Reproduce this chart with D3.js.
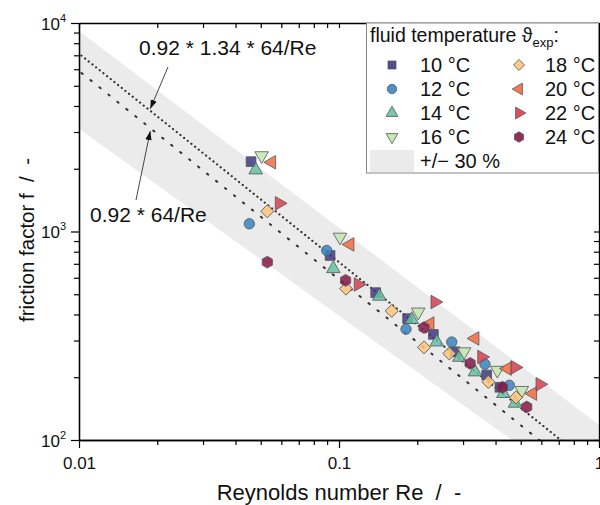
<!DOCTYPE html>
<html>
<head>
<meta charset="utf-8">
<script src="https://cdn.jsdelivr.net/npm/d3@7"></script>
<style>
  html, body { margin: 0; padding: 0; background: #fff; }
  svg { display: block; font-family: "Liberation Sans", Arial, sans-serif; }
</style>
</head>
<body>
<svg id="chart" width="600" height="505"></svg>
<script>
// Friction factor vs. Reynolds number, measured at eight fluid temperatures.
// Each series: [Re, f]
const t10 = [[0.0459, 2163], [0.0924, 767], [0.1384, 509], [0.1836, 382], [0.2307, 321], [0.2793, 265], [0.3698, 205], [0.4159, 179]];
const t12 = [[0.0452, 1089], [0.0897, 811], [0.1810, 340], [0.2714, 295], [0.3642, 231], [0.4519, 183]];
const t14 = [[0.0478, 1972], [0.0951, 663], [0.1429, 489], [0.1904, 378], [0.2377, 295], [0.2903, 249], [0.3334, 212], [0.4286, 167], [0.4753, 150]];
const t16 = [[0.0504, 2311], [0.1009, 940], [0.2017, 411], [0.3027, 265], [0.4064, 216], [0.5047, 173]];
const t18 = [[0.0530, 1250], [0.1064, 532], [0.1595, 416], [0.2123, 278], [0.2656, 260], [0.3752, 190], [0.4796, 160]];
const t20 = [[0.0551, 2148], [0.1102, 867], [0.2239, 362], [0.3334, 307], [0.4439, 220], [0.5559, 167]];
const t22 = [[0.0589, 1365], [0.1185, 557], [0.2339, 459], [0.3538, 250], [0.4753, 223], [0.5929, 185]];
const t24 = [[0.0530, 713], [0.1060, 583], [0.2123, 346], [0.3193, 233], [0.4247, 179], [0.5272, 144]];

const seriesLabels = ["10 °C", "12 °C", "14 °C", "16 °C", "18 °C", "20 °C", "22 °C", "24 °C"];
const seriesData = [t10, t12, t14, t16, t18, t20, t22, t24];
const seriesColors = ["#3e3a85", "#3a84c0", "#66c2a5", "#c4e7ae", "#fdc67d", "#f26b3f", "#d83e51", "#861847"];
const seriesShapes = ["square", "circle", "triUp", "triDown", "diamond", "triLeft", "triRight", "hexagon"];

// Reference correlations f = c / Re
const laminarCoef = [0.92 * 64, 71.3];      // lower and upper reference lines

// +/- 30 % band edges, each given by two [Re, f] anchor points (straight in log-log)
const bandUpper = [[0.01, 9165], [1, 118]];
const bandLower = [[0.01, 3113], [0.4613, 100]];

const xTicks = [0.01, 0.1, 1];
const xTickLabels = ["0.01", "0.1", "1"];
const yTicks = [100, 1000, 10000];
const yTickExp = ["2", "3", "4"];

const svg = d3.select("#chart");
const pL = 79, pR = 599, pT = 23, pB = 440;

const x = d3.scaleLog().domain([0.01, 1]).range([pL, pR]);
const y = d3.scaleLog().domain([100, 10000]).range([pB, pT]);

const defs = svg.append("defs");
defs.append("clipPath").attr("id", "plotClip")
  .append("rect").attr("x", pL).attr("y", pT).attr("width", pR - pL).attr("height", pB - pT);

const plot = svg.append("g").attr("clip-path", "url(#plotClip)");

// power law through two anchor points, evaluated at Re
function powerLaw(anchors, re) {
  const [[r0, f0], [r1, f1]] = anchors;
  const n = Math.log(f1 / f0) / Math.log(r1 / r0);
  return f0 * Math.pow(re / r0, n);
}

// +/- 30 % band
const reSpan = [0.005, 2];
const bandPts = reSpan.map(r => [x(r), y(powerLaw(bandUpper, r))])
  .concat(reSpan.slice().reverse().map(r => [x(r), y(powerLaw(bandLower, r))]));
plot.append("path")
  .attr("d", "M" + bandPts.map(p => p.join(",")).join("L") + "Z")
  .attr("fill", "#ebebeb");

// Reference lines
const line = d3.line().x(d => x(d[0])).y(d => y(d[1]));
plot.append("path")
  .attr("d", line(reSpan.map(r => [r, laminarCoef[1] / r])))
  .attr("fill", "none").attr("stroke", "#333").attr("stroke-width", 2.2)
  .attr("stroke-dasharray", "0.1,4.6").attr("stroke-linecap", "round");
plot.append("path")
  .attr("d", line(reSpan.map(r => [r, laminarCoef[0] / r])))
  .attr("fill", "none").attr("stroke", "#333").attr("stroke-width", 2)
  .attr("stroke-dasharray", "1.5,10").attr("stroke-linecap", "round");

// Marker shapes
const hexagon = {
  draw(ctx, size) {
    const r = Math.sqrt(size / (1.5 * Math.sqrt(3)));
    for (let i = 0; i < 6; i++) {
      const a = Math.PI / 6 + i * Math.PI / 3;
      const px = r * Math.cos(a), py = r * Math.sin(a);
      if (i === 0) ctx.moveTo(px, py); else ctx.lineTo(px, py);
    }
    ctx.closePath();
  }
};
function shapePath(shape, size) {
  switch (shape) {
    case "square": return { d: d3.symbol(d3.symbolSquare, size)(), rot: 0 };
    case "circle": return { d: d3.symbol(d3.symbolCircle, size)(), rot: 0 };
    case "diamond": return { d: d3.symbol(d3.symbolSquare, size)(), rot: 45 };
    case "triUp": return { d: d3.symbol(d3.symbolTriangle, size)(), rot: 0 };
    case "triDown": return { d: d3.symbol(d3.symbolTriangle, size)(), rot: 180 };
    case "triLeft": return { d: d3.symbol(d3.symbolTriangle, size)(), rot: -90 };
    case "triRight": return { d: d3.symbol(d3.symbolTriangle, size)(), rot: 90 };
    case "hexagon": return { d: d3.symbol(hexagon, size)(), rot: 0 };
  }
}
const markerSize = { square: 95, circle: 85, diamond: 85, triUp: 80, triDown: 80, triLeft: 80, triRight: 80, hexagon: 90 };

// Data points
seriesData.forEach((data, i) => {
  const sh = shapePath(seriesShapes[i], markerSize[seriesShapes[i]]);
  plot.append("g").selectAll("path").data(data).join("path")
    .attr("d", sh.d)
    .attr("transform", d => `translate(${x(d[0])},${y(d[1])}) rotate(${sh.rot})`)
    .attr("fill", seriesColors[i]).attr("fill-opacity", 0.85)
    .attr("stroke", "#555").attr("stroke-width", 0.8);
});

// Axes
const minorX = [];
for (const dec of [0.01, 0.1]) for (let k = 2; k <= 9; k++) minorX.push(dec * k);
const minorY = [];
for (const dec of [100, 1000]) for (let k = 2; k <= 9; k++) minorY.push(dec * k);

function styleAxis(g) {
  g.select(".domain").attr("stroke", "#000").attr("stroke-width", 1.3);
  g.selectAll(".tick line").attr("stroke", "#000").attr("stroke-width", 1.2);
}

// bottom
svg.append("g").attr("transform", `translate(0,${pB})`)
  .call(d3.axisBottom(x).tickValues(minorX).tickSize(5).tickFormat("").tickSizeOuter(0)).call(styleAxis);
const xAx = svg.append("g").attr("transform", `translate(0,${pB})`)
  .call(d3.axisBottom(x).tickValues(xTicks).tickSize(8).tickSizeOuter(0)
    .tickFormat((d, i) => xTickLabels[i])).call(styleAxis);
xAx.selectAll("text").attr("font-size", 17).attr("fill", "#111").attr("dy", "1.05em")
  .attr("font-family", "Liberation Sans, Arial, sans-serif");

// top (inward)
svg.append("g").attr("transform", `translate(0,${pT})`)
  .call(d3.axisTop(x).tickValues(minorX.concat(xTicks)).tickSize(-5).tickFormat("").tickSizeOuter(0)).call(styleAxis);

// left
svg.append("g").attr("transform", `translate(${pL},0)`)
  .call(d3.axisLeft(y).tickValues(minorY).tickSize(5).tickFormat("").tickSizeOuter(0)).call(styleAxis);
const yAx = svg.append("g").attr("transform", `translate(${pL},0)`)
  .call(d3.axisLeft(y).tickValues(yTicks).tickSize(8).tickSizeOuter(0).tickFormat("")).call(styleAxis);
yAx.selectAll(".tick").each(function (d, i) {
  const t = d3.select(this).append("text")
    .attr("x", -13).attr("y", 6).attr("text-anchor", "end")
    .attr("font-size", 17).attr("fill", "#111");
  t.append("tspan").text("10");
  t.append("tspan").text(yTickExp[i]).attr("font-size", 11).attr("dy", -8);
});

// right (inward)
svg.append("g").attr("transform", `translate(${pR},0)`)
  .call(d3.axisRight(y).tickValues(minorY.concat(yTicks)).tickSize(-5).tickFormat("").tickSizeOuter(0)).call(styleAxis);

// Axis titles
svg.append("text").attr("x", (pL + pR) / 2).attr("y", 500).attr("text-anchor", "middle")
  .attr("font-size", 22).attr("fill", "#111").style("white-space", "pre")
  .text("Reynolds number Re  /  -");
svg.append("text").attr("transform", "translate(34,240) rotate(-90)")
  .attr("text-anchor", "middle").attr("font-size", 20.5).attr("fill", "#111")
  .style("white-space", "pre").text("friction factor f  /  -");

// Annotations
defs.append("marker").attr("id", "arrowHead").attr("viewBox", "0 0 10 10")
  .attr("refX", 10).attr("refY", 5).attr("markerWidth", 9).attr("markerHeight", 9)
  .attr("markerUnits", "userSpaceOnUse").attr("orient", "auto")
  .append("path").attr("d", "M0,1.5L10,5L0,8.5Z").attr("fill", "#111");

const annoRe = 0.0188;
svg.append("line").attr("x1", 168).attr("y1", 67)
  .attr("x2", x(annoRe)).attr("y2", y(laminarCoef[1] / annoRe) - 2)
  .attr("stroke", "#333").attr("stroke-width", 0.9).attr("marker-end", "url(#arrowHead)");
svg.append("line").attr("x1", 136).attr("y1", 200)
  .attr("x2", x(annoRe)).attr("y2", y(laminarCoef[0] / annoRe) + 3)
  .attr("stroke", "#333").attr("stroke-width", 0.9).attr("marker-end", "url(#arrowHead)");

svg.append("text").attr("x", 139).attr("y", 55).attr("font-size", 21).attr("fill", "#111")
  .text("0.92 * 1.34 * 64/Re");
svg.append("text").attr("x", 90).attr("y", 222).attr("font-size", 21).attr("fill", "#111")
  .text("0.92 * 64/Re");

// Legend
const lg = svg.append("g");
lg.append("rect").attr("x", 366.5).attr("y", 23).attr("width", 232).attr("height", 150)
  .attr("fill", "#fff").attr("stroke", "#888").attr("stroke-width", 1);
const title = lg.append("text").attr("x", 370).attr("y", 42).attr("font-size", 19.5).attr("fill", "#111");
title.append("tspan").text("fluid temperature ϑ");
title.append("tspan").text("exp").attr("font-size", 13).attr("dy", 5);
title.append("tspan").text(":").attr("dy", -5);

const legendSize = { square: 64, circle: 70, diamond: 60, triUp: 60, triDown: 60, triLeft: 60, triRight: 60, hexagon: 70 };
seriesLabels.forEach((lab, i) => {
  const col = Math.floor(i / 4), row = i % 4;
  const cx = col === 0 ? 392 : 519, cy = 65 + row * 24;
  const sh = shapePath(seriesShapes[i], legendSize[seriesShapes[i]]);
  lg.append("path").attr("d", sh.d)
    .attr("transform", `translate(${cx},${cy}) rotate(${sh.rot})`)
    .attr("fill", seriesColors[i]).attr("fill-opacity", 0.9)
    .attr("stroke", "#555").attr("stroke-width", 0.8);
  lg.append("text").attr("x", col === 0 ? 420 : 545).attr("y", cy + 7)
    .attr("font-size", 20).attr("fill", "#111").text(lab);
});
lg.append("rect").attr("x", 370).attr("y", 150).attr("width", 44).attr("height", 22).attr("fill", "#ebebeb");
lg.append("text").attr("x", 420).attr("y", 168).attr("font-size", 20).attr("fill", "#111").text("+/− 30 %");
</script>
</body>
</html>
